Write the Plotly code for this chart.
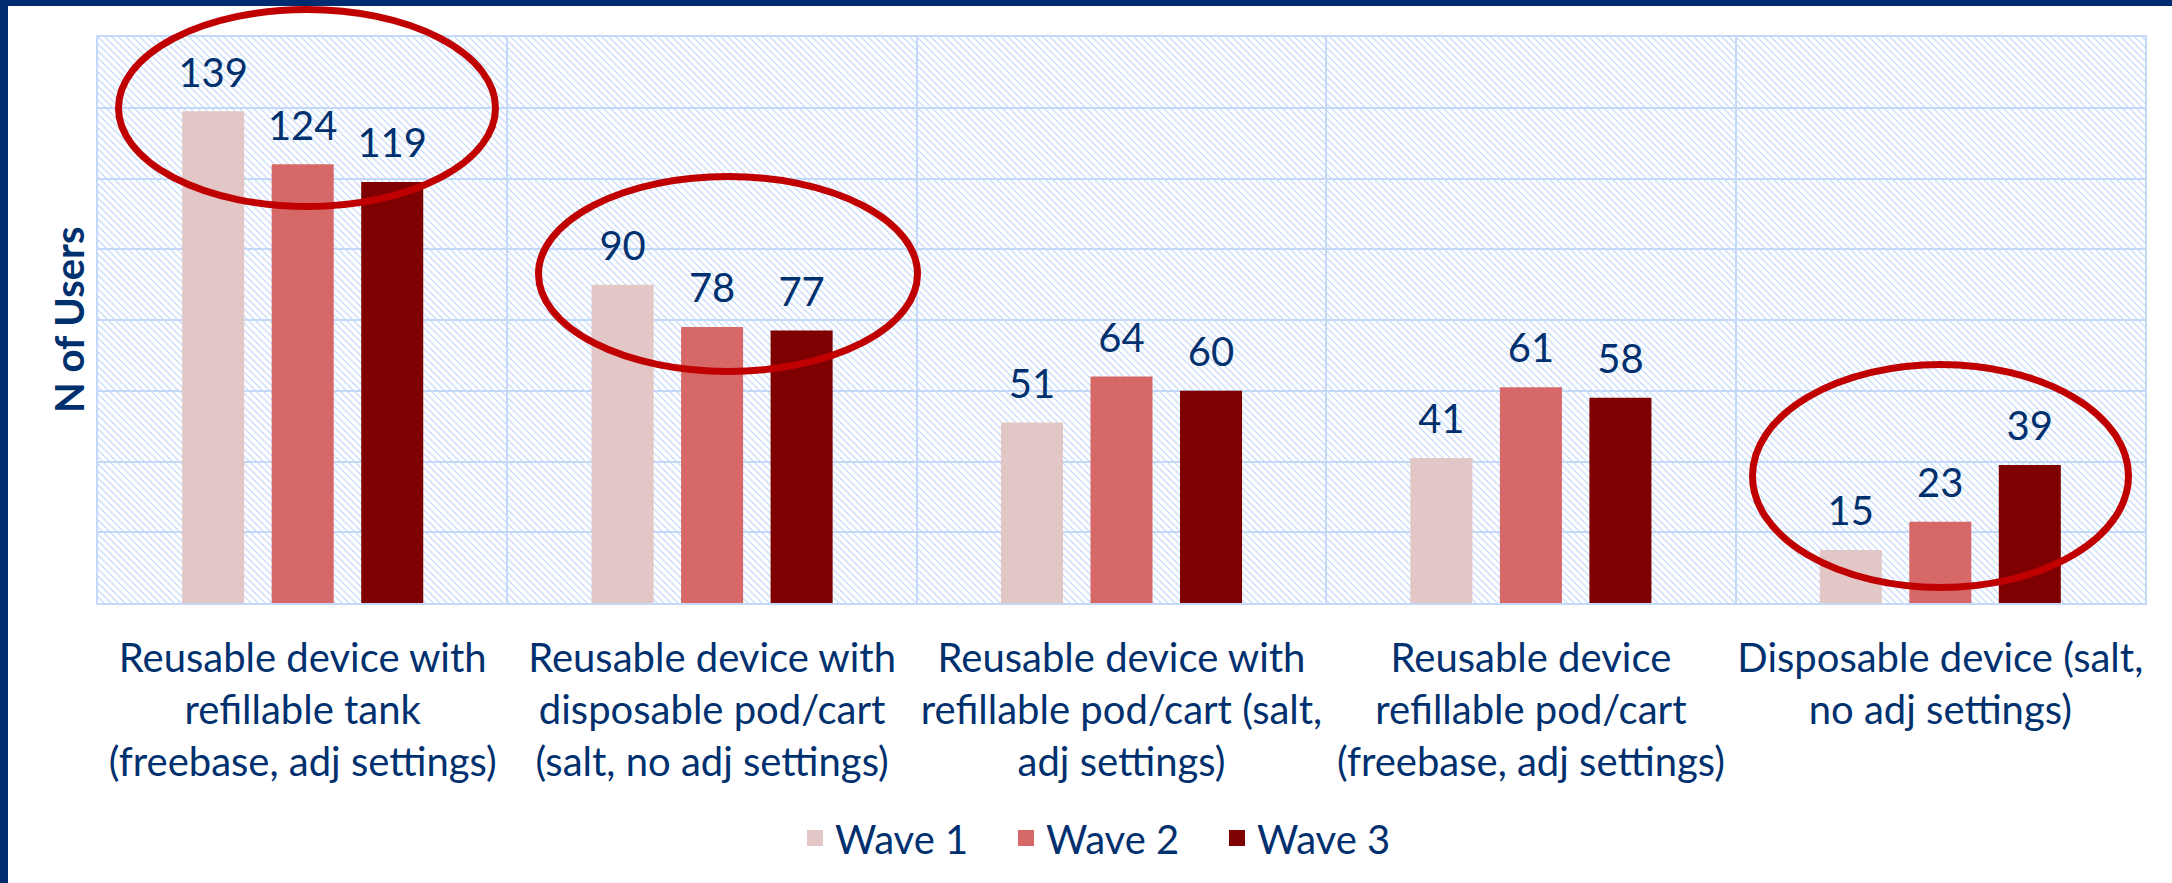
import base64
import plotly.graph_objects as go

# ---------------- data ----------------
categories = [
    "Reusable device with<br>refillable tank<br>(freebase, adj settings)",
    "Reusable device with<br>disposable pod/cart<br>(salt, no adj settings)",
    "Reusable device with<br>refillable pod/cart (salt,<br>adj settings)",
    "Reusable device<br>refillable pod/cart<br>(freebase, adj settings)",
    "Disposable device (salt,<br>no adj settings)",
]
series_names = ["Wave 1", "Wave 2", "Wave 3"]
wave1 = [139, 90, 51, 41, 15]
wave2 = [124, 78, 64, 61, 23]
wave3 = [119, 77, 60, 58, 39]
y_title = "N of Users"

# ---------------- style ----------------
W, H = 2172, 883
L, R, T, B = 98, 27, 37, 280
PW, PH = W - L - R, H - T - B
FONT = "Lato"
TXT = "#00306e"
NAVY = "#002b6e"
GRID = "#c4d8f8"
HATCH = "#c8dbf9"
RED = "#c00000"
colors = ["#e3c6c6", "#d76868", "#7f0000"]
FS = 40


def px_x(p):
    return (p - L) / PW


def px_y(p):
    return (H - B - p) / PH


# hatch pattern background for the plot area
svg = (
    f'<svg xmlns="http://www.w3.org/2000/svg" width="{PW}" height="{PH}">'
    '<defs><pattern id="h" width="7" height="7" patternUnits="userSpaceOnUse">'
    f'<path d="M-1,-1 L8,8 M-8,-1 L1,8 M6,-1 L15,8" stroke="{HATCH}" stroke-width="1.3"/>'
    '</pattern></defs>'
    f'<rect width="{PW}" height="{PH}" fill="url(#h)"/></svg>'
)
svg_uri = "data:image/svg+xml;base64," + base64.b64encode(svg.encode()).decode()

fig = go.Figure()
for name, vals, col in zip(series_names, [wave1, wave2, wave3], colors):
    fig.add_trace(go.Bar(
        x=categories, y=vals, name=name, marker=dict(color=col, line=dict(width=0)),
        offsetgroup=name, alignmentgroup="a", showlegend=False,
    ))
for name, vals in zip(series_names, [wave1, wave2, wave3]):
    fig.add_trace(go.Scatter(
        x=categories, y=vals, mode="markers+text", text=[str(v) for v in vals],
        textposition="top center", textfont=dict(family=FONT, size=FS, color=TXT),
        marker=dict(size=22, color="rgba(0,0,0,0)"), offsetgroup=name, alignmentgroup="a",
        showlegend=False, hoverinfo="skip", cliponaxis=False,
    ))
# legend entries (square swatches) on a hidden overlay axis
for name, col in zip(series_names, colors):
    fig.add_trace(go.Scatter(
        x=[None], y=[None], mode="markers", name=name, xaxis="x2", yaxis="y2",
        marker=dict(symbol="square", size=18, color=col), showlegend=True, hoverinfo="skip",
    ))

ellipses = [
    (118.5, 9.5, 495.5, 206.5),
    (538.5, 176.5, 917.5, 371.5),
    (1752.5, 364.5, 2128.5, 587.5),
]
shapes = []
# frame bands
shapes.append(dict(type="rect", xref="paper", yref="paper", x0=px_x(-5), x1=px_x(W + 5),
                   y0=px_y(6), y1=px_y(-5), fillcolor=NAVY, line=dict(width=0), layer="above"))
shapes.append(dict(type="rect", xref="paper", yref="paper", x0=px_x(-5), x1=px_x(8),
                   y0=px_y(H + 5), y1=px_y(-5), fillcolor=NAVY, line=dict(width=0), layer="above"))
for (x0, y0, x1, y1) in ellipses:
    shapes.append(dict(type="circle", xref="paper", yref="paper",
                       x0=px_x(x0), x1=px_x(x1), y0=px_y(y1), y1=px_y(y0),
                       line=dict(color=RED, width=7), layer="above"))

fig.update_layout(
    width=W, height=H,
    margin=dict(l=L, r=R, t=T, b=B, pad=0, autoexpand=False),
    paper_bgcolor="white", plot_bgcolor="rgba(0,0,0,0)",
    barmode="group", bargap=0.344, bargroupgap=0.307,
    scattermode="group", scattergap=0.344,
    font=dict(family=FONT, size=FS, color=TXT),
    showlegend=True,
    legend=dict(orientation="h", x=px_x(795), xanchor="left", y=px_y(838), yanchor="middle",
                font=dict(family=FONT, size=FS, color=TXT), entrywidth=166,
                entrywidthmode="pixels", bgcolor="rgba(0,0,0,0)", itemsizing="trace"),
    images=[dict(source=svg_uri, xref="paper", yref="paper", x=0, y=1, sizex=1, sizey=1,
                 sizing="stretch", layer="below", xanchor="left", yanchor="top")],
    shapes=shapes,
    annotations=[dict(text=f"<b>{y_title}</b>", xref="paper", yref="paper", x=px_x(69), y=0.5,
                      xanchor="center", yanchor="middle", textangle=-90, showarrow=False,
                      font=dict(family=FONT, size=FS, color=TXT))],
    xaxis2=dict(overlaying="x", visible=False, range=[0, 1]),
    yaxis2=dict(overlaying="y", visible=False, range=[0, 1]),
)
fig.update_layout(xaxis=dict(
    type="category", tickson="boundaries", showgrid=True, gridcolor=GRID, gridwidth=2,
    showline=True, linecolor=GRID, linewidth=2, mirror=True, ticks="", ticklen=0,
    tickangle=0, tickfont=dict(family=FONT, size=FS, color=TXT), ticklabelstandoff=19,
    automargin=False,
))
fig.update_layout(yaxis=dict(
    range=[0, 160], dtick=20, showticklabels=False, showgrid=True, gridcolor=GRID, gridwidth=2,
    showline=True, linecolor=GRID, linewidth=2, mirror=True, zeroline=False, ticks="",
    automargin=False,
))
fig.write_html(
    "out.html",
    config={"displayModeBar": False, "responsive": False},
    post_script="document.body.style.margin='0';document.body.style.overflow='hidden';",
)
